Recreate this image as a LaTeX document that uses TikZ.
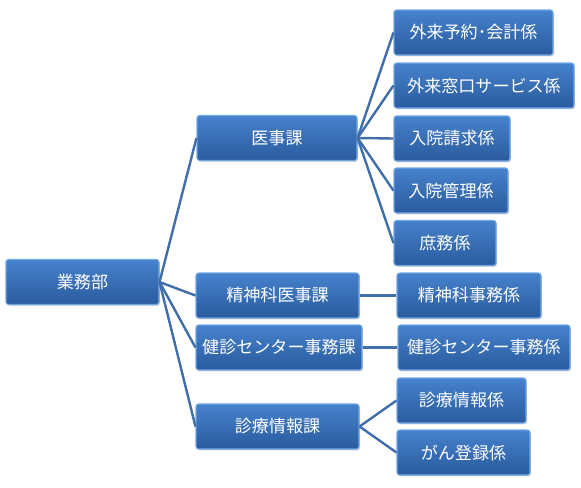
\documentclass[tikz,border=0pt]{standalone}
\usepackage{fontspec}
\setmainfont{Noto Sans CJK JP}
\usepackage{tikz}
\usetikzlibrary{shadows}

\definecolor{boxtop}{HTML}{4682CC}
\definecolor{boxbot}{HTML}{2A5B9E}
\definecolor{boxrim}{HTML}{6FA6E6}
\definecolor{linkcol}{HTML}{3F6EA8}

\tikzset{
  unitbox/.style={rectangle,rounded corners=2pt,top color=boxtop,bottom color=boxbot,
    draw=boxrim,line width=0.8pt,text=white,font=\fontsize{12.8}{15}\selectfont,
    minimum height=33.75pt,minimum width=#1*0.75pt,inner sep=0pt,
    drop shadow={shadow xshift=0.8pt,shadow yshift=-1pt,opacity=0.35}},
  link/.style={draw=linkcol,line width=1.8pt}
}

\begin{document}
\begin{tikzpicture}[x=0.75pt,y=-0.75pt]
\useasboundingbox (0,0) rectangle (581,487);
% root
\node[unitbox=153] (gyomu) at (82.5,282) {業務部};
% sections
\node[unitbox=160] (iji) at (277,138) {医事課};
\node[unitbox=163] (seishin) at (277.5,295.5) {精神科医事課};
\node[unitbox=166] (kenshin) at (279,347.5) {健診センター事務課};
\node[unitbox=163] (shinryo) at (277.5,426.5) {診療情報課};
% groups
\node[unitbox=159] (gairaiyoyaku) at (473.5,32.5) {外来予約･会計係};
\node[unitbox=180] (gairaimado) at (484,85.5) {外来窓口サービス係};
\node[unitbox=116] (nyuinseikyu) at (452,138.5) {入院請求係};
\node[unitbox=114] (nyuinkanri) at (451,190.5) {入院管理係};
\node[unitbox=102] (shomu) at (445,243) {庶務係};
\node[unitbox=144] (seishinjimu) at (469,295.5) {精神科事務係};
\node[unitbox=172] (kenshinjimu) at (484,347.5) {健診センター事務係};
\node[unitbox=129] (shinryojoho) at (461.5,400.5) {診療情報係};
\node[unitbox=133] (gantoroku) at (463.5,452.5) {がん登録係};
% links
\begin{scope}[on background layer/.try]
\foreach \child in {iji,seishin,kenshin,shinryo}
  \draw[link] (gyomu.east) -- (\child.west);
\foreach \child in {gairaiyoyaku,gairaimado,nyuinseikyu,nyuinkanri,shomu}
  \draw[link] (iji.east) -- (\child.west);
\draw[link] (seishin.east) -- (seishinjimu.west);
\draw[link] (kenshin.east) -- (kenshinjimu.west);
\foreach \child in {shinryojoho,gantoroku}
  \draw[link] (shinryo.east) -- (\child.west);
\end{scope}
\end{tikzpicture}
\end{document}
